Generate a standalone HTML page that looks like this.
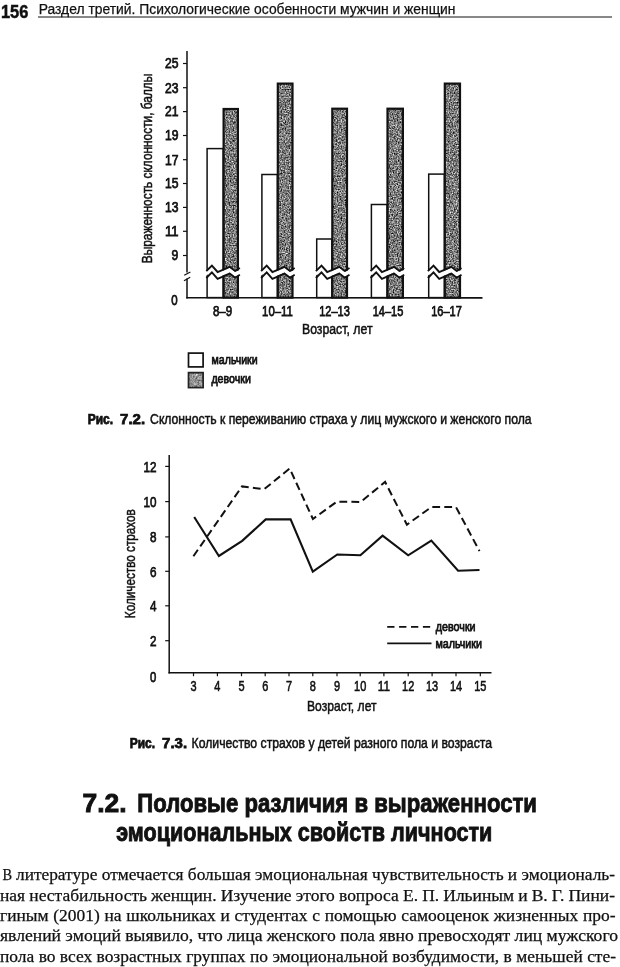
<!DOCTYPE html>
<html lang="ru"><head><meta charset="utf-8"><title>page 156</title>
<style>
html,body{margin:0;padding:0;background:#fff;}
body{width:620px;height:967px;overflow:hidden;font-family:"Liberation Sans",sans-serif;}
svg{display:block;will-change:transform;opacity:0.999;font-family:"Liberation Sans",sans-serif;fill:#111;}
text{stroke:#111;stroke-width:0.5px;}
text.h{stroke-width:0.9px;}
text.l{stroke-width:0.75px;}
text.m{stroke-width:0.6px;}
text.b{stroke-width:0.25px;}
</style></head><body>
<svg width="620" height="967" viewBox="0 0 620 967">
<defs>
<filter id="nf" color-interpolation-filters="sRGB" x="0" y="0" width="100%" height="100%">
<feTurbulence type="fractalNoise" baseFrequency="0.75" numOctaves="2" seed="3" result="n"/>
<feColorMatrix type="matrix" values="1.4 0 0 0 -0.22  1.4 0 0 0 -0.22  1.4 0 0 0 -0.22  0 0 0 0 1"/>
</filter>
<filter id="nf2" color-interpolation-filters="sRGB" x="0" y="0" width="100%" height="100%">
<feTurbulence type="fractalNoise" baseFrequency="0.55" numOctaves="2" seed="7" result="n"/>
<feColorMatrix type="matrix" values="0.9 0 0 0 0.12  0.9 0 0 0 0.12  0.9 0 0 0 0.12  0 0 0 0 1"/>
</filter>
</defs>
<text x="0.9" y="17.6" font-size="18.5" textLength="27.4" lengthAdjust="spacingAndGlyphs" font-weight="bold" >156</text>
<text x="38.7" y="13.6" font-size="14" textLength="416.8" lengthAdjust="spacingAndGlyphs" class="b">Раздел третий. Психологические особенности мужчин и женщин</text>
<line x1="38" y1="17" x2="612" y2="17" stroke="#111" stroke-width="1"/>
<line x1="187" y1="51" x2="187" y2="272.5" stroke="#111" stroke-width="1.5"/>
<line x1="187" y1="278.5" x2="187" y2="298.5" stroke="#111" stroke-width="1.5"/>
<line x1="186.3" y1="297.8" x2="482.5" y2="297.9" stroke="#111" stroke-width="1.6"/>
<line x1="184.2" y1="275.3" x2="190.4" y2="272" stroke="#111" stroke-width="1.2"/>
<line x1="184" y1="280.7" x2="190.2" y2="277.2" stroke="#111" stroke-width="1.2"/>
<line x1="183" y1="63.5" x2="187" y2="63.5" stroke="#111" stroke-width="1.2"/>
<text x="178.4" y="68.3" font-size="14" textLength="13.5" lengthAdjust="spacingAndGlyphs" text-anchor="end" class="l">25</text>
<line x1="183" y1="87.7" x2="187" y2="87.7" stroke="#111" stroke-width="1.2"/>
<text x="178.4" y="92.5" font-size="14" textLength="13.5" lengthAdjust="spacingAndGlyphs" text-anchor="end" class="l">23</text>
<line x1="183" y1="111.6" x2="187" y2="111.6" stroke="#111" stroke-width="1.2"/>
<text x="178.4" y="116.39999999999999" font-size="14" textLength="13.5" lengthAdjust="spacingAndGlyphs" text-anchor="end" class="l">21</text>
<line x1="183" y1="135.5" x2="187" y2="135.5" stroke="#111" stroke-width="1.2"/>
<text x="178.4" y="140.3" font-size="14" textLength="13.5" lengthAdjust="spacingAndGlyphs" text-anchor="end" class="l">19</text>
<line x1="183" y1="159.7" x2="187" y2="159.7" stroke="#111" stroke-width="1.2"/>
<text x="178.4" y="164.5" font-size="14" textLength="13.5" lengthAdjust="spacingAndGlyphs" text-anchor="end" class="l">17</text>
<line x1="183" y1="183.5" x2="187" y2="183.5" stroke="#111" stroke-width="1.2"/>
<text x="178.4" y="188.3" font-size="14" textLength="13.5" lengthAdjust="spacingAndGlyphs" text-anchor="end" class="l">15</text>
<line x1="183" y1="207.4" x2="187" y2="207.4" stroke="#111" stroke-width="1.2"/>
<text x="178.4" y="212.20000000000002" font-size="14" textLength="13.5" lengthAdjust="spacingAndGlyphs" text-anchor="end" class="l">13</text>
<line x1="183" y1="231.3" x2="187" y2="231.3" stroke="#111" stroke-width="1.2"/>
<text x="178.4" y="236.10000000000002" font-size="14" textLength="13.5" lengthAdjust="spacingAndGlyphs" text-anchor="end" class="l">11</text>
<line x1="183" y1="255.5" x2="187" y2="255.5" stroke="#111" stroke-width="1.2"/>
<text x="178.4" y="260.3" font-size="14" textLength="6.8" lengthAdjust="spacingAndGlyphs" text-anchor="end" class="l">9</text>
<text x="177.6" y="305.2" font-size="14" textLength="6.4" lengthAdjust="spacingAndGlyphs" text-anchor="end" class="l">0</text>
<rect x="207.1" y="148.6" width="16.099999999999994" height="149.00000000000003" fill="#fff" stroke="#111" stroke-width="1.5"/>
<rect x="223.6" y="109.0" width="14.300000000000011" height="188.60000000000002" filter="url(#nf)"/>
<rect x="223.6" y="109.0" width="14.300000000000011" height="188.60000000000002" fill="none" stroke="#111" stroke-width="2.2"/>
<polygon points="204.3,272.2 211.9,266.6 217.6,273.0 229.7,267.8 235.1,271.9 241.9,269.0 241.9,273.8 235.1,276.7 229.7,272.6 217.6,277.8 211.9,271.4 204.3,277.0" fill="#fff"/>
<polyline points="206.3,271.2 211.9,265.6 217.6,272.0 229.7,266.8 235.1,270.9 239.9,268.0" fill="none" stroke="#111" stroke-width="1.9"/>
<polyline points="206.3,278.0 211.9,272.4 217.6,278.8 229.7,273.6 235.1,277.7 239.9,274.8" fill="none" stroke="#111" stroke-width="1.9"/>
<rect x="261.90000000000003" y="174.5" width="15.5" height="123.10000000000002" fill="#fff" stroke="#111" stroke-width="1.5"/>
<rect x="277.8" y="83.6" width="14.699999999999989" height="214.00000000000003" filter="url(#nf)"/>
<rect x="277.8" y="83.6" width="14.699999999999989" height="214.00000000000003" fill="none" stroke="#111" stroke-width="2.2"/>
<polygon points="259.1,272.2 266.7,266.6 272.4,273.0 284.5,267.8 289.9,271.9 296.7,269.0 296.7,273.8 289.9,276.7 284.5,272.6 272.4,277.8 266.7,271.4 259.1,277.0" fill="#fff"/>
<polyline points="261.1,271.2 266.7,265.6 272.4,272.0 284.5,266.8 289.9,270.9 294.7,268.0" fill="none" stroke="#111" stroke-width="1.9"/>
<polyline points="261.1,278.0 266.7,272.4 272.4,278.8 284.5,273.6 289.9,277.7 294.7,274.8" fill="none" stroke="#111" stroke-width="1.9"/>
<rect x="316.70000000000005" y="239.0" width="15.199999999999989" height="58.600000000000016" fill="#fff" stroke="#111" stroke-width="1.5"/>
<rect x="332.3" y="108.7" width="14.699999999999989" height="188.90000000000003" filter="url(#nf)"/>
<rect x="332.3" y="108.7" width="14.699999999999989" height="188.90000000000003" fill="none" stroke="#111" stroke-width="2.2"/>
<polygon points="313.9,272.2 321.5,266.6 327.2,273.0 339.3,267.8 344.7,271.9 351.5,269.0 351.5,273.8 344.7,276.7 339.3,272.6 327.2,277.8 321.5,271.4 313.9,277.0" fill="#fff"/>
<polyline points="315.9,271.2 321.5,265.6 327.2,272.0 339.3,266.8 344.7,270.9 349.5,268.0" fill="none" stroke="#111" stroke-width="1.9"/>
<polyline points="315.9,278.0 321.5,272.4 327.2,278.8 339.3,273.6 344.7,277.7 349.5,274.8" fill="none" stroke="#111" stroke-width="1.9"/>
<rect x="371.40000000000003" y="204.5" width="15.699999999999989" height="93.10000000000002" fill="#fff" stroke="#111" stroke-width="1.5"/>
<rect x="387.5" y="108.7" width="15.399999999999977" height="188.90000000000003" filter="url(#nf)"/>
<rect x="387.5" y="108.7" width="15.399999999999977" height="188.90000000000003" fill="none" stroke="#111" stroke-width="2.2"/>
<polygon points="368.6,272.2 376.2,266.6 381.9,273.0 394.0,267.8 399.4,271.9 406.2,269.0 406.2,273.8 399.4,276.7 394.0,272.6 381.9,277.8 376.2,271.4 368.6,277.0" fill="#fff"/>
<polyline points="370.6,271.2 376.2,265.6 381.9,272.0 394.0,266.8 399.4,270.9 404.2,268.0" fill="none" stroke="#111" stroke-width="1.9"/>
<polyline points="370.6,278.0 376.2,272.4 381.9,278.8 394.0,273.6 399.4,277.7 404.2,274.8" fill="none" stroke="#111" stroke-width="1.9"/>
<rect x="428.70000000000005" y="174.1" width="15.699999999999989" height="123.50000000000003" fill="#fff" stroke="#111" stroke-width="1.5"/>
<rect x="444.8" y="83.6" width="15.199999999999989" height="214.00000000000003" filter="url(#nf)"/>
<rect x="444.8" y="83.6" width="15.199999999999989" height="214.00000000000003" fill="none" stroke="#111" stroke-width="2.2"/>
<polygon points="425.9,272.2 433.5,266.6 439.2,273.0 451.3,267.8 456.7,271.9 463.5,269.0 463.5,273.8 456.7,276.7 451.3,272.6 439.2,277.8 433.5,271.4 425.9,277.0" fill="#fff"/>
<polyline points="427.9,271.2 433.5,265.6 439.2,272.0 451.3,266.8 456.7,270.9 461.5,268.0" fill="none" stroke="#111" stroke-width="1.9"/>
<polyline points="427.9,278.0 433.5,272.4 439.2,278.8 451.3,273.6 456.7,277.7 461.5,274.8" fill="none" stroke="#111" stroke-width="1.9"/>
<text x="222.5" y="315.9" font-size="14" textLength="19.2" lengthAdjust="spacingAndGlyphs" text-anchor="middle" class="l">8–9</text>
<text x="277.4" y="315.9" font-size="14" textLength="30.6" lengthAdjust="spacingAndGlyphs" text-anchor="middle" class="l">10–11</text>
<text x="334.5" y="315.9" font-size="14" textLength="30.6" lengthAdjust="spacingAndGlyphs" text-anchor="middle" class="l">12–13</text>
<text x="388" y="315.9" font-size="14" textLength="30.6" lengthAdjust="spacingAndGlyphs" text-anchor="middle" class="l">14–15</text>
<text x="446.5" y="315.9" font-size="14" textLength="30.6" lengthAdjust="spacingAndGlyphs" text-anchor="middle" class="l">16–17</text>
<text x="302" y="333.5" font-size="14" textLength="70.5" lengthAdjust="spacingAndGlyphs" >Возраст, лет</text>
<text transform="translate(151.8,263.2) rotate(-90)" font-size="14.3" textLength="189.5" lengthAdjust="spacingAndGlyphs">Выраженность склонности, баллы</text>
<rect x="188.5" y="353.1" width="14.6" height="13.8" fill="#fff" stroke="#111" stroke-width="1.7"/>
<rect x="188.5" y="372.6" width="14.6" height="15.0" filter="url(#nf2)"/>
<rect x="188.5" y="372.6" width="14.6" height="15.0" fill="none" stroke="#222" stroke-width="1.7"/>
<text x="211.6" y="363.5" font-size="12.5" textLength="46" lengthAdjust="spacingAndGlyphs" class="l">мальчики</text>
<text x="211.4" y="383" font-size="12.5" textLength="39.5" lengthAdjust="spacingAndGlyphs" class="l">девочки</text>
<text x="87.7" y="423.6" font-size="14" textLength="25.4" lengthAdjust="spacingAndGlyphs" font-weight="bold" class="l">Рис.</text>
<text x="120.1" y="423.6" font-size="14" textLength="25" lengthAdjust="spacingAndGlyphs" font-weight="bold" class="l">7.2.</text>
<text x="150.1" y="423.6" font-size="14" textLength="381.5" lengthAdjust="spacingAndGlyphs" >Склонность к переживанию страха у лиц мужского и женского пола</text>
<line x1="169.2" y1="455" x2="169.2" y2="673.4" stroke="#111" stroke-width="1.5"/>
<line x1="168.5" y1="672.7" x2="491.5" y2="672.7" stroke="#111" stroke-width="1.5"/>
<line x1="165.2" y1="466.4" x2="169.2" y2="466.4" stroke="#111" stroke-width="1.2"/>
<text x="156.5" y="471.7" font-size="15" textLength="13" lengthAdjust="spacingAndGlyphs" text-anchor="end" class="l">12</text>
<line x1="165.2" y1="501.6" x2="169.2" y2="501.6" stroke="#111" stroke-width="1.2"/>
<text x="156.5" y="506.90000000000003" font-size="15" textLength="13" lengthAdjust="spacingAndGlyphs" text-anchor="end" class="l">10</text>
<line x1="165.2" y1="536.9" x2="169.2" y2="536.9" stroke="#111" stroke-width="1.2"/>
<text x="156.5" y="542.1999999999999" font-size="15" textLength="6.5" lengthAdjust="spacingAndGlyphs" text-anchor="end" class="l">8</text>
<line x1="165.2" y1="571.3" x2="169.2" y2="571.3" stroke="#111" stroke-width="1.2"/>
<text x="156.5" y="576.5999999999999" font-size="15" textLength="6.5" lengthAdjust="spacingAndGlyphs" text-anchor="end" class="l">6</text>
<line x1="165.2" y1="605.8" x2="169.2" y2="605.8" stroke="#111" stroke-width="1.2"/>
<text x="156.5" y="611.0999999999999" font-size="15" textLength="6.5" lengthAdjust="spacingAndGlyphs" text-anchor="end" class="l">4</text>
<line x1="165.2" y1="640.7" x2="169.2" y2="640.7" stroke="#111" stroke-width="1.2"/>
<text x="156.5" y="646.0" font-size="15" textLength="6.5" lengthAdjust="spacingAndGlyphs" text-anchor="end" class="l">2</text>
<text x="156.2" y="681.9" font-size="15" textLength="6.3" lengthAdjust="spacingAndGlyphs" text-anchor="end" class="l">0</text>
<line x1="193.5" y1="672.7" x2="193.5" y2="676.2" stroke="#111" stroke-width="1.2"/>
<text x="193.5" y="691" font-size="14.8" textLength="6.1" lengthAdjust="spacingAndGlyphs" text-anchor="middle" class="m">3</text>
<line x1="217.4" y1="672.7" x2="217.4" y2="676.2" stroke="#111" stroke-width="1.2"/>
<text x="217.4" y="691" font-size="14.8" textLength="6.1" lengthAdjust="spacingAndGlyphs" text-anchor="middle" class="m">4</text>
<line x1="241.5" y1="672.7" x2="241.5" y2="676.2" stroke="#111" stroke-width="1.2"/>
<text x="241.5" y="691" font-size="14.8" textLength="6.1" lengthAdjust="spacingAndGlyphs" text-anchor="middle" class="m">5</text>
<line x1="265.2" y1="672.7" x2="265.2" y2="676.2" stroke="#111" stroke-width="1.2"/>
<text x="265.2" y="691" font-size="14.8" textLength="6.1" lengthAdjust="spacingAndGlyphs" text-anchor="middle" class="m">6</text>
<line x1="289" y1="672.7" x2="289" y2="676.2" stroke="#111" stroke-width="1.2"/>
<text x="289" y="691" font-size="14.8" textLength="6.1" lengthAdjust="spacingAndGlyphs" text-anchor="middle" class="m">7</text>
<line x1="312.8" y1="672.7" x2="312.8" y2="676.2" stroke="#111" stroke-width="1.2"/>
<text x="312.8" y="691" font-size="14.8" textLength="6.1" lengthAdjust="spacingAndGlyphs" text-anchor="middle" class="m">8</text>
<line x1="337" y1="672.7" x2="337" y2="676.2" stroke="#111" stroke-width="1.2"/>
<text x="337" y="691" font-size="14.8" textLength="6.1" lengthAdjust="spacingAndGlyphs" text-anchor="middle" class="m">9</text>
<line x1="360.2" y1="672.7" x2="360.2" y2="676.2" stroke="#111" stroke-width="1.2"/>
<text x="360.2" y="691" font-size="14.8" textLength="12.2" lengthAdjust="spacingAndGlyphs" text-anchor="middle" class="m">10</text>
<line x1="383.9" y1="672.7" x2="383.9" y2="676.2" stroke="#111" stroke-width="1.2"/>
<text x="383.9" y="691" font-size="14.8" textLength="12.2" lengthAdjust="spacingAndGlyphs" text-anchor="middle" class="m">11</text>
<line x1="408.2" y1="672.7" x2="408.2" y2="676.2" stroke="#111" stroke-width="1.2"/>
<text x="408.2" y="691" font-size="14.8" textLength="12.2" lengthAdjust="spacingAndGlyphs" text-anchor="middle" class="m">12</text>
<line x1="432.1" y1="672.7" x2="432.1" y2="676.2" stroke="#111" stroke-width="1.2"/>
<text x="432.1" y="691" font-size="14.8" textLength="12.2" lengthAdjust="spacingAndGlyphs" text-anchor="middle" class="m">13</text>
<line x1="456" y1="672.7" x2="456" y2="676.2" stroke="#111" stroke-width="1.2"/>
<text x="456" y="691" font-size="14.8" textLength="12.2" lengthAdjust="spacingAndGlyphs" text-anchor="middle" class="m">14</text>
<line x1="480.3" y1="672.7" x2="480.3" y2="676.2" stroke="#111" stroke-width="1.2"/>
<text x="480.3" y="691" font-size="14.8" textLength="12.2" lengthAdjust="spacingAndGlyphs" text-anchor="middle" class="m">15</text>
<polyline points="194.2,517.0 218.9,556.0 242.2,540.8 265.7,519.4 290.6,519.4 312.8,571.6 337.3,554.5 360.4,555.3 382.6,535.6 408.2,555.3 431.3,540.6 458.1,570.8 479.5,570" fill="none" stroke="#111" stroke-width="2.1" stroke-linejoin="miter"/>
<polyline points="193.4,556.2 242.0,486.4 264.2,489.2 289.7,468.5 312.9,519.0 336.9,501.6 360.6,502 385.1,481.9 406.9,524.7 431.3,507.1 456,507.1 479.5,551.1" fill="none" stroke="#111" stroke-width="2.0" stroke-dasharray="7.8,4.2"/>
<text x="307" y="711" font-size="14.5" textLength="69.5" lengthAdjust="spacingAndGlyphs" >Возраст, лет</text>
<text transform="translate(135.2,618.2) rotate(-90)" font-size="15" textLength="109" lengthAdjust="spacingAndGlyphs">Количество страхов</text>
<line x1="387.2" y1="626.9" x2="432" y2="626.9" stroke="#111" stroke-width="1.9" stroke-dasharray="7.3,4.6"/>
<line x1="387.2" y1="643.4" x2="431.5" y2="643.4" stroke="#111" stroke-width="1.9"/>
<text x="435.8" y="630.6" font-size="12.5" textLength="39.8" lengthAdjust="spacingAndGlyphs" class="l">девочки</text>
<text x="435.4" y="647.6" font-size="12.5" textLength="46.6" lengthAdjust="spacingAndGlyphs" class="l">мальчики</text>
<text x="129.7" y="748.4" font-size="14" textLength="25.4" lengthAdjust="spacingAndGlyphs" font-weight="bold" class="l">Рис.</text>
<text x="162.1" y="748.4" font-size="14" textLength="25" lengthAdjust="spacingAndGlyphs" font-weight="bold" class="l">7.3.</text>
<text x="191.6" y="748.4" font-size="14" textLength="300.4" lengthAdjust="spacingAndGlyphs" >Количество страхов у детей разного пола и возраста</text>
<text x="82.6" y="812.4" font-size="25.4" textLength="44" lengthAdjust="spacingAndGlyphs" font-weight="bold" class="h">7.2.</text>
<text x="137.3" y="812.4" font-size="25.4" textLength="399.6" lengthAdjust="spacingAndGlyphs" font-weight="bold" class="h">Половые различия в выраженности</text>
<text x="116.2" y="841.1" font-size="25.4" textLength="376.2" lengthAdjust="spacingAndGlyphs" font-weight="bold" class="h">эмоциональных свойств личности</text>
<text x="2.6" y="880" font-size="16" font-family="Liberation Serif" class="b" textLength="9.6" lengthAdjust="spacingAndGlyphs">В</text>
<text x="16.0" y="880" font-size="16" font-family="Liberation Serif" class="b" word-spacing="-0.018" textLength="599.0" lengthAdjust="spacingAndGlyphs">литературе отмечается большая эмоциональная чувствительность и эмоциональ-</text>
<text x="0" y="900.5" font-size="16" font-family="Liberation Serif" class="b" word-spacing="-0.211" textLength="615" lengthAdjust="spacingAndGlyphs">ная нестабильность женщин. Изучение этого вопроса Е. П. Ильиным и В. Г. Пини-</text>
<text x="0" y="921.0" font-size="16" font-family="Liberation Serif" class="b" word-spacing="0.321" textLength="615.5" lengthAdjust="spacingAndGlyphs">гиным (2001) на школьниках и студентах с помощью самооценок жизненных про-</text>
<text x="0" y="941.4" font-size="16" font-family="Liberation Serif" class="b" word-spacing="-0.049" textLength="618" lengthAdjust="spacingAndGlyphs">явлений эмоций выявило, что лица женского пола явно превосходят лиц мужского</text>
<text x="0" y="961.5" font-size="16" font-family="Liberation Serif" class="b" word-spacing="0.072" textLength="616" lengthAdjust="spacingAndGlyphs">пола во всех возрастных группах по эмоциональной возбудимости, в меньшей сте-</text>
</svg>
</body></html>
